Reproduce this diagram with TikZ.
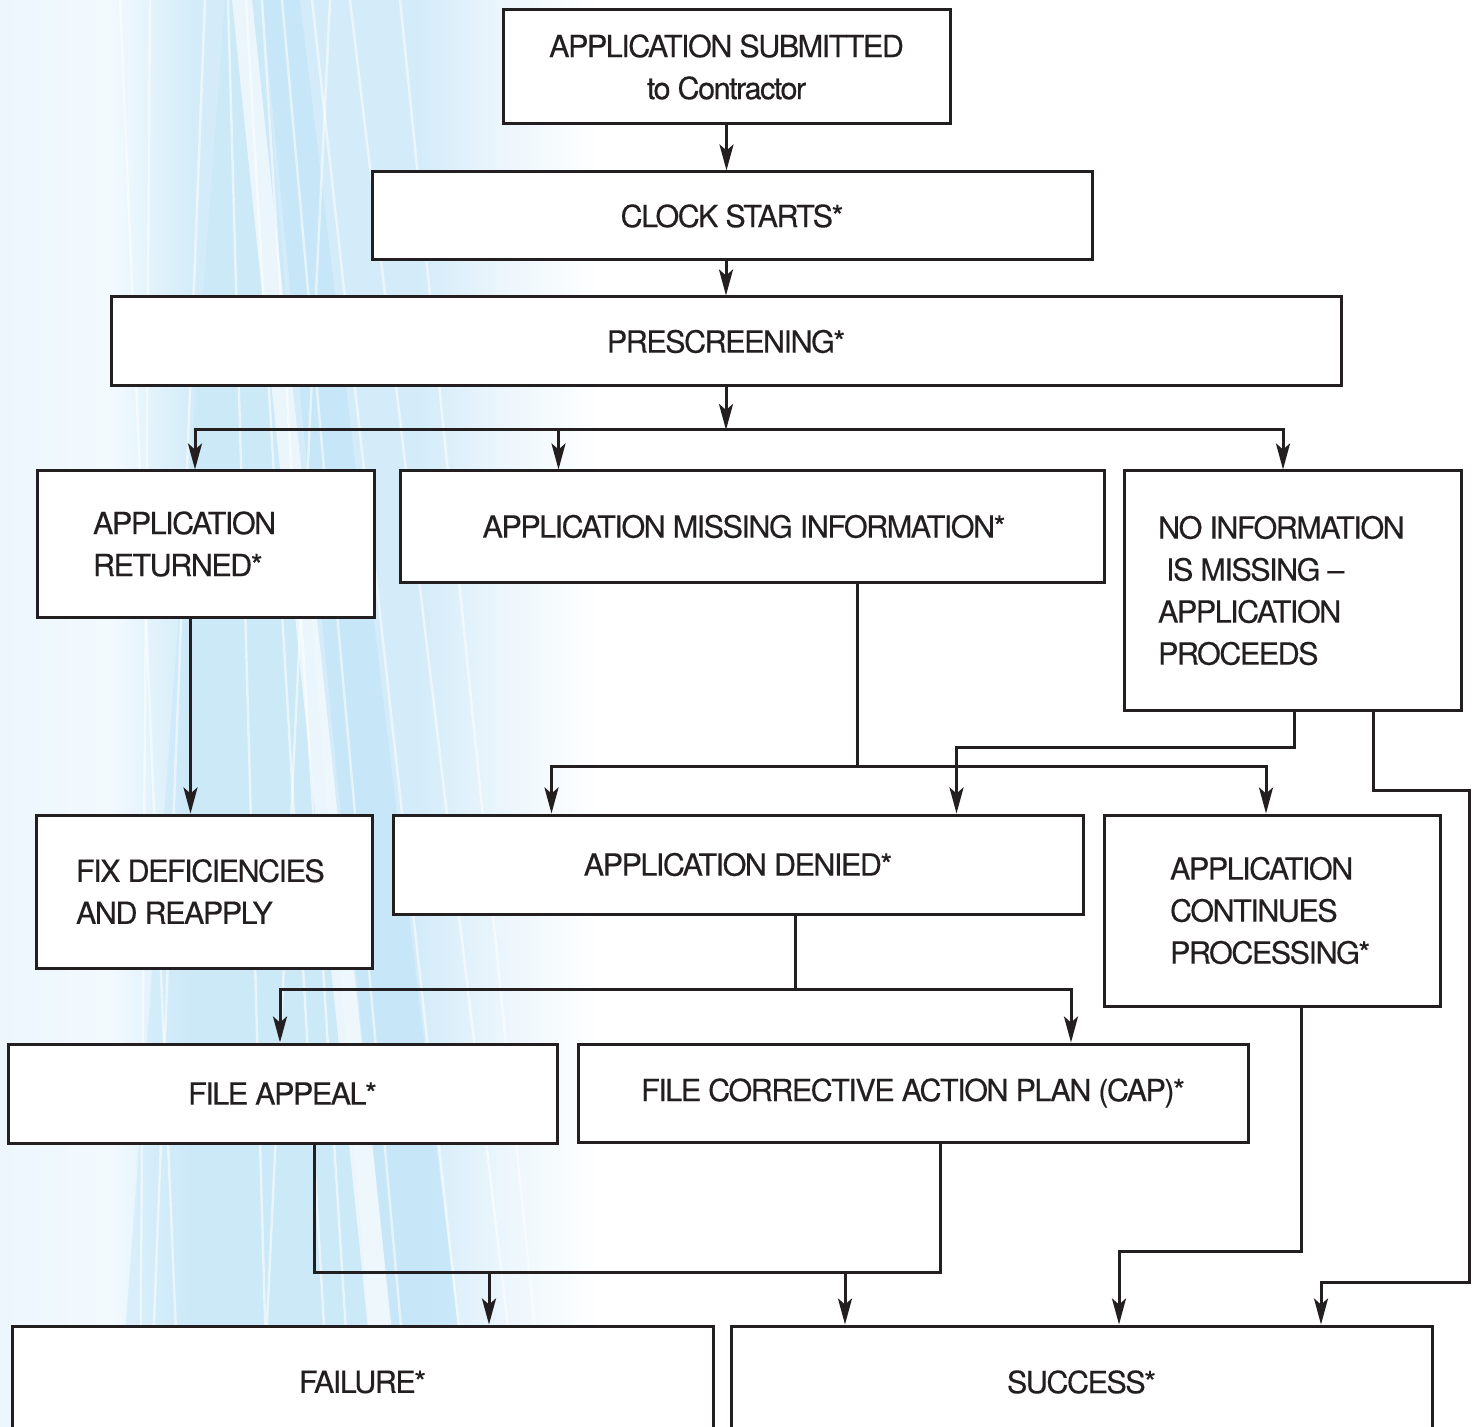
\documentclass[tikz,border=0pt]{standalone}
\usepackage{fontspec}
\setmainfont{TeX Gyre Heros}[LetterSpace=-5, FakeBold=0.3]
\usepackage{tikz}
\usetikzlibrary{positioning, calc, shapes, arrows.meta, fit}

\definecolor{inkgray}{RGB}{35,31,32}
\definecolor{bgpale}{RGB}{236,246,252}
\definecolor{bglight}{RGB}{243,250,254}
\definecolor{bgmid}{RGB}{212,236,249}
\definecolor{bgdeep}{RGB}{196,230,248}
\pgfdeclarehorizontalshading{skyfade}{100bp}{color(0bp)=(bgpale); color(25bp)=(bgpale); color(34bp)=(bglight); color(41bp)=(bgmid); color(60bp)=(bgmid); color(67bp)=(bgpale); color(75bp)=(white); color(100bp)=(white)}

\tikzset{
	stage/.style = {draw = inkgray, fill = white, line width = 1.5pt, text = inkgray, font = \fontsize{15.3pt}{21pt}\selectfont, align = center, inner sep = 0pt},
	stageleft/.style = {stage, align = flush left, execute at begin node = {\hyphenpenalty 10000\relax}},
	flow/.style = {draw = inkgray, line width = 1.5pt, -{Stealth[length = 13pt, width = 7pt, inset = 3pt]}},
	link/.style = {draw = inkgray, line width = 1.5pt}
}

\begin{document}
\begin{tikzpicture}[x = 0.5pt, y = -0.5pt]
						\useasboundingbox (0,0) rectangle (1476,1427);
						\shade[shading = skyfade] (0,0) rectangle (600,1427);
						\fill[bgdeep, opacity = .8] (262,0) -- (300,0) -- (470,1427) -- (400,1427) -- cycle;
						\fill[bgdeep, opacity = .45] (225,0) -- (262,0) -- (377,1427) -- (118,1427) -- cycle;
						\fill[white, opacity = .6] (232,0) -- (252,0) -- (402,1427) -- (378,1427) -- cycle;
						\foreach \xa/\xb in {120/180, 150/140, 205/150, 228/268, 246/330, 262/352, 282/410, 312/470, 330/262, 350/520, 400/545}
							\draw[white, opacity = .55, line width = 1.2pt] (\xa,0) -- (\xb,1427);

						\node[stage, minimum width = 223.5pt, minimum height = 57pt] (submitted) at (726.5,67) {APPLICATION SUBMITTED\\to Contractor};
						\node[stage, minimum width = 360pt, minimum height = 44pt] (clock) at (732,216) {CLOCK STARTS*};
						\node[stage, minimum width = 615pt, minimum height = 44.5pt] (prescreen) at (726,341.5) {PRESCREENING*};
						\node[stageleft, text width = 112.5pt, inner xsep = 28pt, minimum width = 168.5pt, minimum height = 73pt] (returned) at (205.5,544) {APPLICATION\\RETURNED*};
						\node[stage, minimum width = 352pt, minimum height = 55.5pt] (missing) at (752,526.5) {APPLICATION MISSING INFORMATION*\hspace*{8pt}};
						\node[stageleft, text width = 134.5pt, inner xsep = 17pt, minimum width = 168.5pt, minimum height = 119.5pt] (noinfo) at (1292.5,590.5) {NO INFORMATION\\\hspace*{4pt}IS MISSING --\\APPLICATION\\PROCEEDS};
						\node[stageleft, text width = 128pt, inner xsep = 20pt, minimum width = 168pt, minimum height = 76.5pt] (fix) at (204,891.5) {FIX DEFICIENCIES\\AND REAPPLY};
						\node[stage, minimum width = 345pt, minimum height = 49.5pt] (denied) at (738,864.5) {APPLICATION DENIED*};
						\node[stageleft, text width = 102pt, inner xsep = 33pt, minimum width = 168pt, minimum height = 95.5pt] (continues) at (1272,910.5) {APPLICATION\\CONTINUES\\PROCESSING*};
						\node[stage, minimum width = 274.5pt, minimum height = 49.5pt] (appeal) at (282.5,1093.5) {FILE APPEAL*};
						\node[stage, minimum width = 335pt, minimum height = 49pt] (cap) at (913,1093) {FILE CORRECTIVE ACTION PLAN (CAP)*};
						\node[stage, minimum width = 350.5pt, minimum height = 56pt] (failure) at (362.5,1382) {FAILURE*};
						\node[stage, minimum width = 350.5pt, minimum height = 56pt] (success) at (1081.5,1382) {SUCCESS*};

						\coordinate (split1) at (726,430);
						\coordinate (split2) at (857,766);
						\coordinate (split3) at (795,989);
						\coordinate (join) at (940,1272);
						\coordinate (failin) at ($(failure.north)+(126.5,0)$);
						\coordinate (succin) at ($(success.north)+(-236.5,0)$);
						\coordinate (fixin) at ($(returned.south)+(-15,0)$);

						\draw[flow] (submitted.south) -- (submitted.south |- clock.north);
						\draw[flow] (prescreen.north |- clock.south) -- (prescreen.north);
						\draw[flow] (prescreen.south) -- (split1);
						\draw[flow] (split1) -| ($(returned.north)+(-10.5,0)$);
						\draw[flow] (split1) -| ($(missing.north west)+(160,0)$);
						\draw[flow] (split1) -| ($(noinfo.north)+(-9.5,0)$);
						\draw[flow] (fixin) -- (fixin |- fix.north);
						\draw[link] (split2 |- missing.south) -- (split2);
						\draw[flow] (split2) -| ($(denied.north west)+(160,0)$);
						\draw[flow] (split2) -| ($(continues.north)+(-6,0)$);
						\draw[flow] ($(noinfo.south)+(1.5,0)$) -- ++(0,36) -| ($(denied.north west)+(565,0)$);
						\draw[flow] ($(noinfo.south)+(80.5,0)$) -- ++(0,79) -| (1469,1282) -| ($(success.north)+(239.5,0)$);
						\draw[link] (split3 |- denied.south) -- (split3);
						\draw[flow] (split3) -| ($(appeal.north)+(-2.5,0)$);
						\draw[flow] (split3) -| ($(cap.north)+(158,0)$);
						\draw[link] ($(appeal.south)+(31.5,0)$) |- (join) -- (join |- cap.south);
						\draw[flow] (failin |- join) -- (failin);
						\draw[flow] (succin |- join) -- (succin);
						\draw[flow] ($(continues.south)+(29,0)$) -- ++(0,244) -| ($(success.north)+(37.5,0)$);
				\end{tikzpicture}
\end{document}
